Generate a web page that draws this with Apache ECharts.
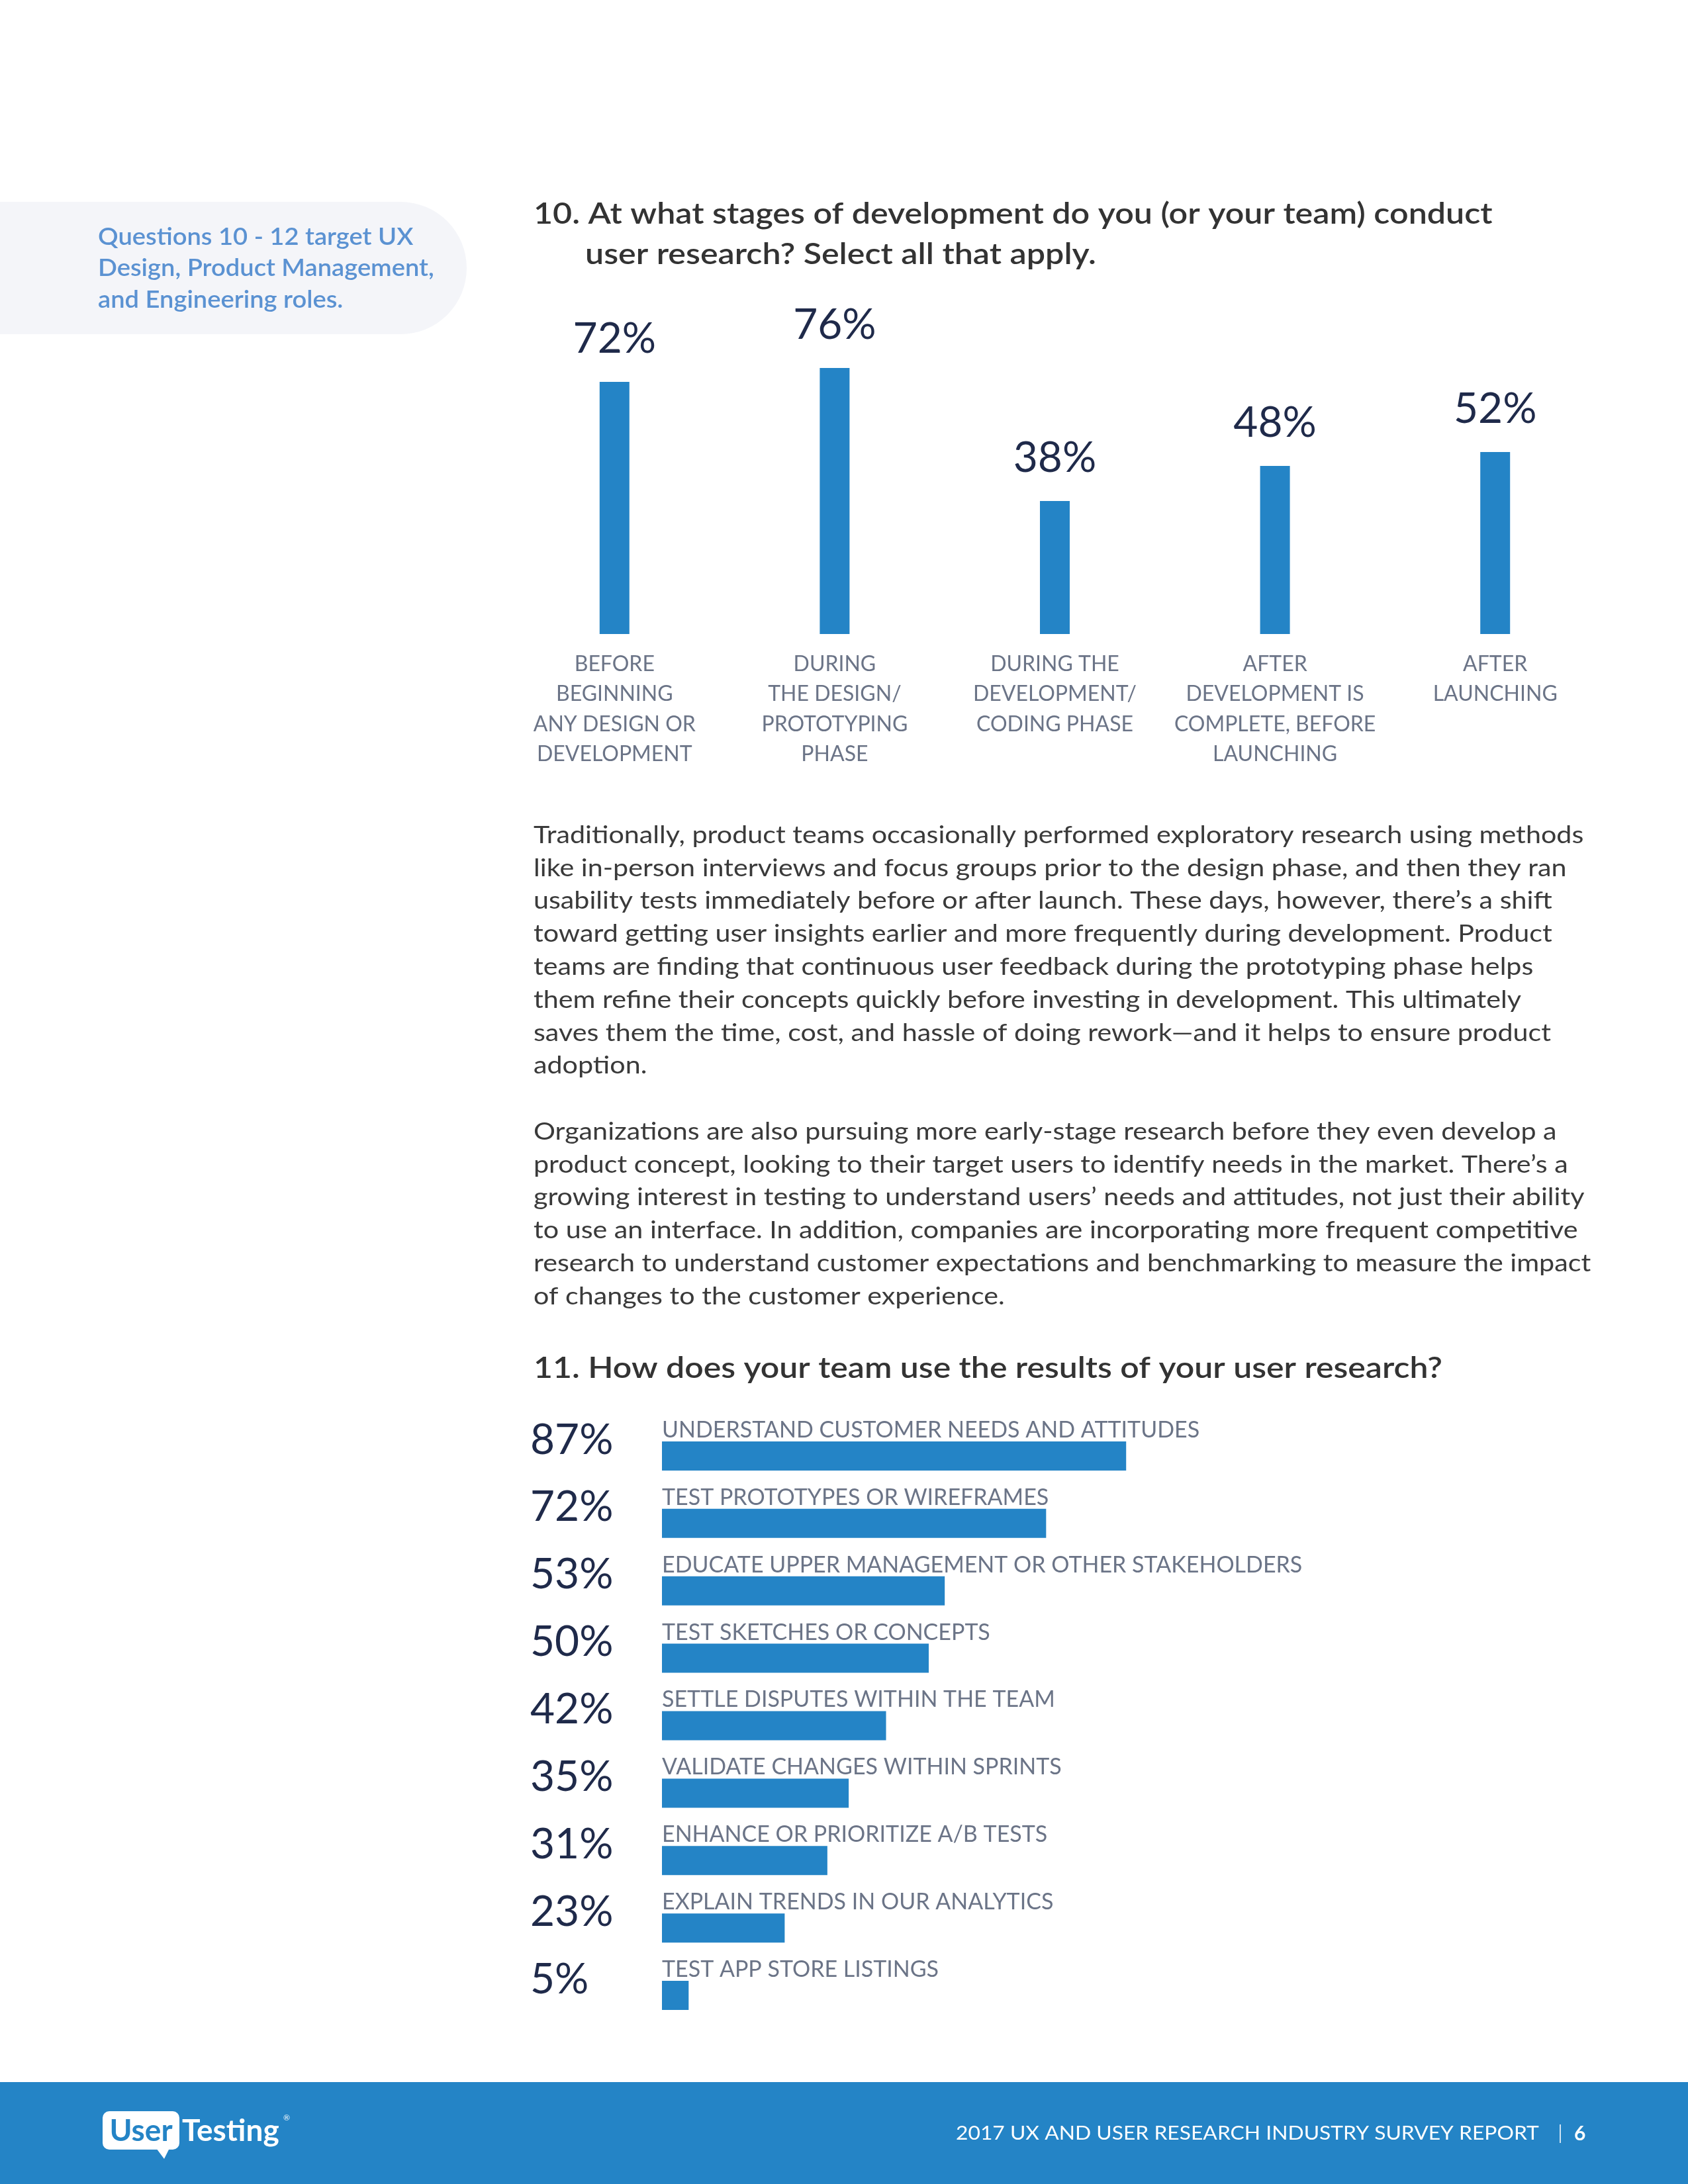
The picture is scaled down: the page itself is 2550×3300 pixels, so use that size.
<!DOCTYPE html>
<html><head><meta charset="utf-8">
<script src="https://cdn.jsdelivr.net/npm/echarts@6/dist/echarts.min.js"></script>
<style>html,body{margin:0;padding:0;background:#fff}#c{width:2550px;height:3300px}</style>
</head><body><div id="c"></div>
<script>
// ---- data ----
const stageCategories = [
  'BEFORE\nBEGINNING\nANY DESIGN OR\nDEVELOPMENT',
  'DURING\nTHE DESIGN/\nPROTOTYPING\nPHASE',
  'DURING THE\nDEVELOPMENT/\nCODING PHASE',
  'AFTER\nDEVELOPMENT IS\nCOMPLETE, BEFORE\nLAUNCHING',
  'AFTER\nLAUNCHING'
];
const stageValues = [72, 76, 38, 48, 52];

const usageCategories = [
  'UNDERSTAND CUSTOMER NEEDS AND ATTITUDES',
  'TEST PROTOTYPES OR WIREFRAMES',
  'EDUCATE UPPER MANAGEMENT OR OTHER STAKEHOLDERS',
  'TEST SKETCHES OR CONCEPTS',
  'SETTLE DISPUTES WITHIN THE TEAM',
  'VALIDATE CHANGES WITHIN SPRINTS',
  'ENHANCE OR PRIORITIZE A/B TESTS',
  'EXPLAIN TRENDS IN OUR ANALYTICS',
  'TEST APP STORE LISTINGS'
];
const usageValues = [87, 72, 53, 50, 42, 35, 31, 23, 5];

const sideNote = ['Questions 10 - 12 target UX', 'Design, Product Management,', 'and Engineering roles.'];
const title10 = ['10. At what stages of development do you (or your team) conduct', 'user research? Select all that apply.'];
const title11 = '11. How does your team use the results of your user research?';
const paragraph1 = [
  'Traditionally, product teams occasionally performed exploratory research using methods',
  'like in-person interviews and focus groups prior to the design phase, and then they ran',
  'usability tests immediately before or after launch. These days, however, there\u2019s a shift',
  'toward getting user insights earlier and more frequently during development. Product',
  'teams are finding that continuous user feedback during the prototyping phase helps',
  'them refine their concepts quickly before investing in development. This ultimately',
  'saves them the time, cost, and hassle of doing rework\u2014and it helps to ensure product',
  'adoption.'
];
const paragraph2 = [
  'Organizations are also pursuing more early-stage research before they even develop a',
  'product concept, looking to their target users to identify needs in the market. There\u2019s a',
  'growing interest in testing to understand users\u2019 needs and attitudes, not just their ability',
  'to use an interface. In addition, companies are incorporating more frequent competitive',
  'research to understand customer expectations and benchmarking to measure the impact',
  'of changes to the customer experience.'
];
const footerText = '2017 UX AND USER RESEARCH INDUSTRY SURVEY REPORT';
const pageNumber = '6';

// ---- style ----
const FONT = 'Lato, "Open Sans", sans-serif';
const BLUE = '#2484c6';
const NAVY = '#1f2a4a';
const GRAY = '#6b7487';
const DARK = '#333333';

const chart = echarts.init(document.getElementById('c'), null, {renderer: 'canvas'});

const option = {
  animation: false,
  backgroundColor: '#ffffff',
  grid: [
    {left: 762, right: 125, top: 429, height: 529, containLabel: false},
    {left: 1000, width: 806, top: 2149, height: 917, containLabel: false}
  ],
  xAxis: [
    {
      gridIndex: 0, type: 'category', data: stageCategories,
      axisLine: {show: false}, axisTick: {show: false}, splitLine: {show: false},
      axisLabel: {interval: 0, margin: 23, color: GRAY, fontFamily: FONT, fontSize: 32, lineHeight: 45.3, align: 'center'}
    },
    {
      gridIndex: 1, type: 'value', min: 0, max: 100,
      show: false, splitLine: {show: false}
    }
  ],
  yAxis: [
    {gridIndex: 0, type: 'value', min: 0, max: 100, show: false, splitLine: {show: false}},
    {
      gridIndex: 1, type: 'category', data: usageCategories, inverse: true,
      axisLine: {show: false}, axisTick: {show: false}, splitLine: {show: false},
      axisLabel: {
        interval: 0, margin: 199, align: 'left', verticalAlign: 'bottom', lineHeight: 48,
        color: NAVY, fontFamily: FONT, fontSize: 64,
        formatter: (v, i) => usageValues[i] + '%'
      }
    }
  ],
  series: [
    {
      type: 'bar', xAxisIndex: 0, yAxisIndex: 0, data: stageValues, barWidth: 45,
      itemStyle: {color: BLUE},
      label: {show: true, position: 'top', distance: 33, formatter: '{c}%', color: NAVY, fontFamily: FONT, fontSize: 64, lineHeight: 64}
    },
    {
      type: 'bar', xAxisIndex: 1, yAxisIndex: 1, data: usageValues, barWidth: 44,
      itemStyle: {color: BLUE},
      label: {show: true, position: [0, 0], align: 'left', verticalAlign: 'bottom', formatter: p => p.name,
        color: GRAY, fontFamily: FONT, fontSize: 34, lineHeight: 34}
    }
  ],
  graphic: [
    // side note box
    {type: 'rect', shape: {x: -120, y: 305, width: 825, height: 200, r: [0, 100, 100, 0]}, style: {fill: '#f4f5f9'}, z: 0},
    {type: 'text', x: 148, y: 334, scaleX: 1.03, style: {text: sideNote.join('\n'), fill: '#5b92d2', font: '600 37px ' + FONT, lineHeight: 47.5, verticalAlign: 'top'}},
    // titles
    {type: 'text', x: 806, y: 323, scaleX: 1.115, style: {text: title10[0], fill: DARK, font: '600 45px ' + FONT, verticalAlign: 'middle'}},
    {type: 'text', x: 884, y: 384, scaleX: 1.115, style: {text: title10[1], fill: DARK, font: '600 45px ' + FONT, verticalAlign: 'middle'}},
    {type: 'text', x: 806, y: 2067, scaleX: 1.11, style: {text: title11, fill: DARK, font: '600 45px ' + FONT, verticalAlign: 'middle'}},
    // paragraphs
    {type: 'text', x: 806, y: 1237, scaleX: 1.115, style: {text: paragraph1.join('\n'), fill: '#3a3a3a', font: '400 37px ' + FONT, lineHeight: 49.8, verticalAlign: 'top'}},
    {type: 'text', x: 806, y: 1685, scaleX: 1.115, style: {text: paragraph2.join('\n'), fill: '#3a3a3a', font: '400 37px ' + FONT, lineHeight: 49.8, verticalAlign: 'top'}},
    // footer
    {type: 'rect', shape: {x: 0, y: 3146, width: 2550, height: 154}, style: {fill: BLUE}},
    {type: 'text', x: 1444, y: 3224, scaleX: 1.097, style: {text: footerText, fill: '#ffffff', font: '400 29px ' + FONT, verticalAlign: 'middle'}},
    {type: 'rect', shape: {x: 2356, y: 3210, width: 2, height: 28}, style: {fill: '#cfe3f3'}},
    {type: 'text', x: 2378, y: 3224, style: {text: pageNumber, fill: '#ffffff', font: '700 30px ' + FONT, verticalAlign: 'middle'}},
    // logo
    {type: 'rect', shape: {x: 155, y: 3190, width: 116, height: 58, r: 10}, style: {fill: '#ffffff'}},
    {type: 'polygon', shape: {points: [[236, 3246], [256, 3246], [248, 3262]]}, style: {fill: '#ffffff'}},
    {type: 'text', x: 213, y: 3220, style: {text: 'User', fill: BLUE, font: '700 46px ' + FONT, align: 'center', verticalAlign: 'middle'}},
    {type: 'text', x: 275, y: 3220, style: {text: 'Testing', fill: '#ffffff', font: '700 46px ' + FONT, verticalAlign: 'middle'}},
    {type: 'text', x: 428, y: 3200, style: {text: '\u00ae', fill: '#ffffff', font: '400 12px ' + FONT, verticalAlign: 'middle'}}
  ]
};
chart.setOption(option);
</script></body></html>
